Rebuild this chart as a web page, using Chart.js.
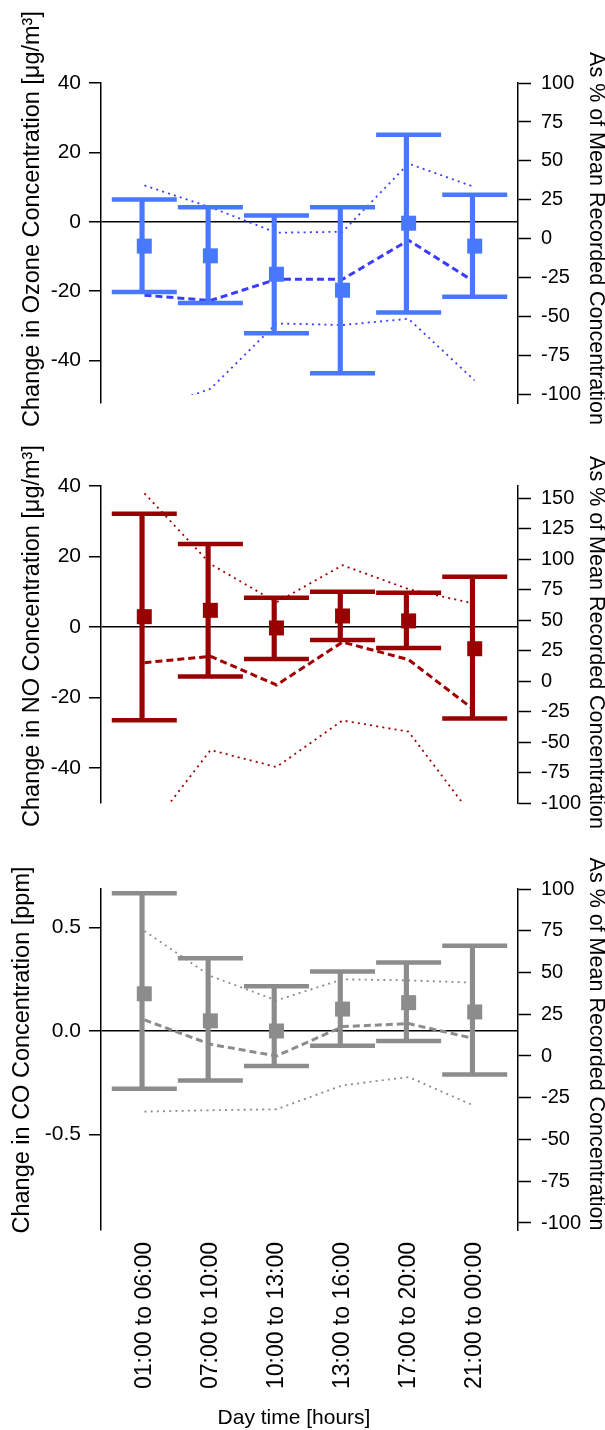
<!DOCTYPE html>
<html>
<head>
<meta charset="utf-8">
<script src="https://cdn.jsdelivr.net/npm/chart.js@4.4.1/dist/chart.umd.min.js"></script>
<style>
    html, body { margin: 0; padding: 0; background: #fff; }
    body { width: 605px; height: 1430px; position: relative; overflow: hidden; }
    canvas { position: absolute; left: 0; }
</style>
</head>
<body>
<canvas id="ozoneChart" width="605" height="440" style="top:0px"></canvas>
<canvas id="noChart" width="605" height="400" style="top:440px"></canvas>
<canvas id="coChart" width="605" height="590" style="top:840px"></canvas>
<script>
// Categories
const timeLabels = ['01:00 to 06:00', '07:00 to 10:00', '10:00 to 13:00', '13:00 to 16:00', '17:00 to 20:00', '21:00 to 00:00'];

// Ozone (change in ug/m3 + % of mean)
const ozoneMean = [-7.0, -9.8, -15.1, -19.7, -0.4, -7.0];
const ozoneHigh = [6.4, 4.2, 1.8, 4.2, 25.1, 7.8];
const ozoneLow = [-20.2, -23.4, -32.1, -43.6, -26.1, -21.6];
const ozonePct = [-36.1, -39.5, -25.9, -25.9, -0.8, -27.5];
const ozonePctHigh = [34.3, 20.3, 4.0, 4.6, 48.3, 33.3];
const ozonePctLow = [-111, -96.1, -54.2, -55.2, -51.2, -90.7];

// NO
const noMean = [2.9, 4.7, -0.3, 3.1, 1.7, -6.2];
const noHigh = [32.1, 23.5, 8.3, 10.0, 9.7, 14.2];
const noLow = [-26.5, -14.1, -9.1, -3.7, -6.0, -26.0];
const noPct = [15.1, 20.3, -3.2, 32.0, 17.6, -23.9];
const noPctHigh = [154, 96, 64.6, 95, 75.4, 63.5];
const noPctLow = [-127, -56.6, -70.5, -32.3, -41.5, -113];

// CO (ppm)
const coMean = [0.18, 0.049, 0.0, 0.106, 0.137, 0.092];
const coHigh = [0.666, 0.352, 0.216, 0.288, 0.331, 0.412];
const coLow = [-0.28, -0.24, -0.17, -0.072, -0.048, -0.21];
const coPct = [21.6, 7.0, 0.0, 17.6, 19.4, 10.4];
const coPctHigh = [74.9, 47.9, 33.3, 45.9, 45.3, 43.9];
const coPctLow = [-33.3, -32.5, -31.9, -17.6, -12.6, -29.9];

// Tick values
const ozoneTicks = [40, 20, 0, -20, -40];
const noTicks = [40, 20, 0, -20, -40];
const coTicks = [0.5, 0.0, -0.5];
const pctTicks = [100, 75, 50, 25, 0, -25, -50, -75, -100];
const noPctTicks = [150, 125, 100, 75, 50, 25, 0, -25, -50, -75, -100];

const FONT = '"Liberation Sans", Arial, sans-serif';

// draws the rotated axis titles
const titlePlugin = {
    id: 'sideTitles',
    afterDraw(chart, args, opts) {
        const ctx = chart.ctx;
        (opts.items || []).forEach(t => {
            ctx.save();
            ctx.translate(t.x, t.y);
            ctx.rotate((t.rotate || 0) * Math.PI / 180);
            ctx.font = t.font;
            ctx.fillStyle = '#000';
            ctx.textAlign = 'center';
            ctx.textBaseline = 'middle';
            ctx.fillText(t.text, 0, 0);
            ctx.restore();
        });
    }
};

const pts = arr => arr.map((v, i) => ({ x: i, y: v }));

function makePanel(id, p) {
    const ctx = document.getElementById(id).getContext('2d');
    const dotted = { borderWidth: 1.8, borderDash: [2, 4.2] };

    return new Chart(ctx, {
        type: 'bar',
        data: {
            datasets: [
                {
                    type: 'scatter', data: pts(p.mean),
                    pointStyle: 'rect', pointRadius: 10.6,
                    pointBackgroundColor: p.color, pointBorderWidth: 0
                },
                {
                    type: 'scatter', data: pts(p.high),
                    pointStyle: 'line', pointRadius: 32.5,
                    pointBorderColor: p.color, pointBorderWidth: 4.5
                },
                {
                    type: 'scatter', data: pts(p.low),
                    pointStyle: 'line', pointRadius: 32.5,
                    pointBorderColor: p.color, pointBorderWidth: 4.5
                },
                {
                    type: 'bar',
                    data: p.low.map((v, i) => ({ x: i, y: [v, p.high[i]] })),
                    backgroundColor: p.color, borderWidth: 0, barThickness: 4.5
                },
                {
                    type: 'line', xAxisID: 'x2', yAxisID: 'yR', data: pts(p.pct),
                    borderColor: p.lineColor, borderWidth: 3, borderDash: [7, 4],
                    pointRadius: 0, tension: 0, fill: false
                },
                Object.assign({
                    type: 'line', xAxisID: 'x2', yAxisID: 'yR', data: pts(p.pctHigh),
                    borderColor: p.lineColor, pointRadius: 0, tension: 0, fill: false
                }, dotted),
                Object.assign({
                    type: 'line', xAxisID: 'x2', yAxisID: 'yR', data: pts(p.pctLow),
                    borderColor: p.lineColor, pointRadius: 0, tension: 0, fill: false,
                    clip: { left: 0, top: 0, right: 0, bottom: p.lowClip || 0 }
                }, dotted)
            ]
        },
        options: {
            responsive: false,
            animation: false,
            devicePixelRatio: 1,
            events: [],
            layout: { padding: { left: 0, right: 0, top: p.top, bottom: p.bottom } },
            plugins: {
                legend: { display: false },
                tooltip: { enabled: false },
                sideTitles: { items: p.titles }
            },
            scales: {
                x: {
                    type: 'linear', min: -0.655, max: 5.655, offset: false,
                    display: !!p.showX,
                    grid: { display: false, drawTicks: false },
                    border: { display: false },
                    afterBuildTicks: s => { s.ticks = timeLabels.map((_, i) => ({ value: i })); },
                    afterFit: s => { if (p.showX) s.height = 160; },
                    ticks: {
                        autoSkip: false, minRotation: 90, maxRotation: 90, padding: 12,
                        color: '#000', font: { family: FONT, size: 23 },
                        callback: v => timeLabels[v]
                    }
                },
                x2: { type: 'linear', min: -0.132, max: 5.132, display: false },
                y: {
                    type: 'linear', position: 'left', min: p.leftMin, max: p.leftMax,
                    afterBuildTicks: s => { s.ticks = p.leftTicks.map(v => ({ value: v })); },
                    afterFit: s => { s.width = 101; },
                    border: { display: true, color: '#000', width: 1.5 },
                    grid: {
                        drawOnChartArea: true,
                        color: c => (c.tick && c.tick.value === 0) ? '#000' : 'rgba(0,0,0,0)',
                        lineWidth: 1.5, tickLength: 12, tickColor: '#000', tickWidth: 1.5
                    },
                    ticks: {
                        autoSkip: false, padding: 8, color: '#000', font: { family: FONT, size: 21 },
                        callback: p.leftFmt
                    }
                },
                yR: {
                    type: 'linear', position: 'right', min: p.rightMin, max: p.rightMax,
                    afterBuildTicks: s => { s.ticks = p.rightTicks.map(v => ({ value: v })); },
                    afterFit: s => { s.width = 87; },
                    border: { display: true, color: '#000', width: 1.5 },
                    grid: { drawOnChartArea: false, tickLength: 13, tickColor: '#000', tickWidth: 1.5 },
                    ticks: { autoSkip: false, padding: 10, color: '#000', font: { family: FONT, size: 20 } }
                }
            }
        },
        plugins: [titlePlugin]
    });
}

const leftTitleFont = '23.5px ' + FONT;
const rightTitleFont = '21.5px ' + FONT;
const rightTitle = 'As % of Mean Recorded Concentration';

makePanel('ozoneChart', {
    color: '#4878ff', lineColor: '#3c3cff',
    mean: ozoneMean, high: ozoneHigh, low: ozoneLow,
    pct: ozonePct, pctHigh: ozonePctHigh, pctLow: ozonePctLow,
    leftMin: -52.2, leftMax: 40, leftTicks: ozoneTicks, leftFmt: v => String(v),
    rightMin: -105.2, rightMax: 100, rightTicks: pctTicks,
    top: 83, bottom: 16, lowClip: -8,
    titles: [
        { text: 'Change in Ozone Concentration [μg/m³]', x: 33, y: 219, rotate: -90, font: leftTitleFont },
        { text: rightTitle, x: 596, y: 238.5, rotate: 90, font: rightTitleFont }
    ]
});

makePanel('noChart', {
    color: '#990000', lineColor: '#a00000',
    mean: noMean, high: noHigh, low: noLow,
    pct: noPct, pctHigh: noPctHigh, pctLow: noPctLow,
    leftMin: -50, leftMax: 40, leftTicks: noTicks, leftFmt: v => String(v),
    rightMin: -100, rightMax: 160, rightTicks: noPctTicks,
    top: 46, bottom: 23,
    titles: [
        { text: 'Change in NO Concentration [μg/m³]', x: 33, y: 196, rotate: -90, font: leftTitleFont },
        { text: rightTitle, x: 596, y: 202.5, rotate: 90, font: rightTitleFont }
    ]
});

makePanel('coChart', {
    color: '#8c8c8c', lineColor: '#8c8c8c',
    mean: coMean, high: coHigh, low: coLow,
    pct: coPct, pctHigh: coPctHigh, pctLow: coPctLow,
    leftMin: -0.963, leftMax: 0.687, leftTicks: coTicks, leftFmt: v => v.toFixed(1),
    rightMin: -104.2, rightMax: 100, rightTicks: pctTicks,
    top: 49, bottom: 40, showX: true,
    titles: [
        { text: 'Change in CO Concentration [ppm]', x: 23, y: 210, rotate: -90, font: leftTitleFont },
        { text: rightTitle, x: 596, y: 204, rotate: 90, font: rightTitleFont },
        { text: 'Day time [hours]', x: 294, y: 578, rotate: 0, font: '21px ' + FONT }
    ]
});
</script>
</body>
</html>
